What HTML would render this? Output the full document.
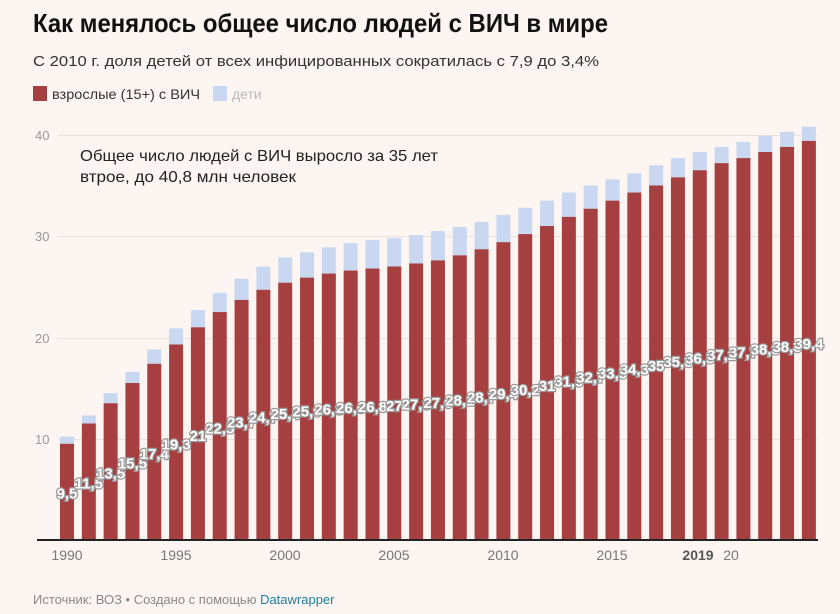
<!DOCTYPE html>
<html><head><meta charset="utf-8"><style>
body{margin:0;background:#fcf5f1;}
svg{display:block;font-family:"Liberation Sans",sans-serif;}
.lbl{font-weight:bold;font-size:15px;fill:#fff;stroke:#999;stroke-width:2.5px;paint-order:stroke;text-anchor:middle;}
</style></head><body>
<svg width="840" height="614" xmlns="http://www.w3.org/2000/svg">
<rect width="840" height="614" fill="#fcf5f1"/>
<text x="33" y="32" font-size="26" font-weight="bold" fill="#111" textLength="575" lengthAdjust="spacingAndGlyphs">Как менялось общее число людей с ВИЧ в мире</text>
<text x="33" y="66" font-size="15" fill="#333" textLength="566" lengthAdjust="spacingAndGlyphs">С 2010 г. доля детей от всех инфицированных сократилась с 7,9 до 3,4%</text>
<rect x="33" y="86" width="14" height="15" fill="#a63f40"/>
<text x="52" y="99" font-size="14" fill="#333" textLength="148" lengthAdjust="spacingAndGlyphs">взрослые (15+) с ВИЧ</text>
<rect x="213" y="86" width="14" height="15" fill="#c9d8f0"/>
<text x="232" y="99" font-size="14" fill="#bbb">дети</text>
<g stroke="#e8e2de" stroke-width="1">
<line x1="58" x2="818" y1="135.5" y2="135.5"/>
<line x1="58" x2="818" y1="236.5" y2="236.5"/>
<line x1="58" x2="818" y1="338.5" y2="338.5"/>
<line x1="58" x2="818" y1="439.5" y2="439.5"/>
</g>
<g font-size="13" fill="#999">
<text x="35" y="140">40</text><text x="35" y="241">30</text><text x="35" y="343">20</text><text x="35" y="444">10</text>
</g>
<g id="bars"></g>
<line x1="37" x2="818" y1="540" y2="540" stroke="#222" stroke-width="2"/>
<g font-size="14" fill="#777" text-anchor="middle">
<text x="67" y="560">1990</text><text x="176" y="560">1995</text><text x="285" y="560">2000</text><text x="394" y="560">2005</text><text x="503" y="560">2010</text><text x="612" y="560">2015</text>
<text x="698" y="560" font-weight="bold" fill="#555">2019</text><text x="731" y="560">20</text>
</g>
<text x="80" y="161" font-size="16" fill="#222" textLength="358" lengthAdjust="spacingAndGlyphs">Общее число людей с ВИЧ выросло за 35 лет</text>
<text x="80" y="182" font-size="16" fill="#222" textLength="216" lengthAdjust="spacingAndGlyphs">втрое, до 40,8 млн человек</text>
<text x="33" y="604" font-size="13" fill="#888">Источник: ВОЗ • Создано с помощью <tspan fill="#1d81a2">Datawrapper</tspan></text>
</svg>
<script>
var tot=[10.2,12.3,14.5,16.6,18.8,20.9,22.7,24.4,25.8,27.0,27.9,28.4,28.9,29.3,29.6,29.8,30.1,30.5,30.9,31.4,32.1,32.8,33.5,34.3,35.0,35.6,36.2,37.0,37.7,38.3,38.8,39.3,39.9,40.3,40.8];
var ad=[9.5,11.5,13.5,15.5,17.4,19.3,21,22.5,23.7,24.7,25.4,25.9,26.3,26.6,26.8,27,27.3,27.6,28.1,28.7,29.4,30.2,31.0,31.9,32.7,33.5,34.3,35.0,35.8,36.5,37.2,37.7,38.3,38.8,39.4];
var g=document.getElementById('bars'),s='',l='',k=10.13;
for(var i=0;i<35;i++){var cx=67+i*21.82,x=cx-7;
var yt=540-tot[i]*k,ya=540-ad[i]*k;
s+='<rect x="'+x+'" y="'+yt+'" width="14" height="'+(ya-yt)+'" fill="#c9d8f0"/>';
s+='<rect x="'+x+'" y="'+ya+'" width="14" height="'+(540-ya)+'" fill="#a63f40"/>';
var t=(ad[i]%1===0)?String(ad[i]):ad[i].toFixed(1).replace('.',',');
l+='<text class="lbl" x="'+cx+'" y="'+(546-ad[i]*5)+'">'+t+'</text>';}
g.innerHTML=s+l;
</script>
</body></html>
